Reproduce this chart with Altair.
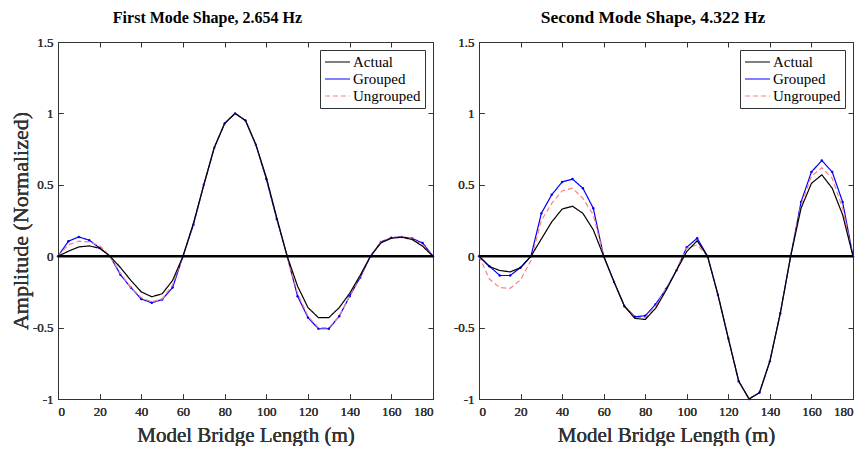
import altair as alt
import pandas as pd

# ---------------- data ----------------
positions = [0, 5, 10, 15, 20, 25, 30, 35, 40, 45, 50, 55, 60, 65, 70, 75, 80, 85, 90,
             95, 100, 105, 110, 115, 120, 125, 130, 135, 140, 145, 150, 155, 160, 165, 170, 175, 180]

series_names = ["Actual", "Grouped", "Ungrouped"]

mode1_actual = [0, 0.035, 0.065, 0.072, 0.056, 0, -0.08, -0.17, -0.25, -0.284, -0.263, -0.17, 0,
                0.23, 0.50, 0.76, 0.93, 1.0, 0.95, 0.78, 0.55, 0.27, 0,
                -0.21, -0.36, -0.43, -0.43, -0.36, -0.26, -0.135, 0,
                0.093, 0.126, 0.133, 0.117, 0.07, 0]
mode1_grouped = [0, 0.105, 0.135, 0.112, 0.058, 0, -0.13, -0.22, -0.30, -0.326, -0.303, -0.22, 0,
                 0.22, 0.50, 0.76, 0.93, 1.0, 0.95, 0.78, 0.54, 0.26, 0,
                 -0.28, -0.43, -0.508, -0.508, -0.42, -0.28, -0.15, 0,
                 0.10, 0.13, 0.135, 0.124, 0.093, 0]
mode1_ungrouped = [0, 0.08, 0.105, 0.10, 0.075, 0, -0.12, -0.22, -0.29, -0.32, -0.30, -0.20, 0,
                   0.23, 0.50, 0.76, 0.93, 1.0, 0.95, 0.78, 0.55, 0.27, 0,
                   -0.26, -0.42, -0.50, -0.50, -0.42, -0.28, -0.14, 0,
                   0.10, 0.13, 0.135, 0.12, 0.08, 0]

mode2_actual = [0, -0.073, -0.10, -0.11, -0.08, 0, 0.12, 0.24, 0.33, 0.35, 0.30, 0.185, 0,
                -0.18, -0.35, -0.435, -0.443, -0.365, -0.24, -0.10, 0.033, 0.108, 0,
                -0.27, -0.576, -0.876, -1.0, -0.955, -0.735, -0.40, 0,
                0.336, 0.51, 0.57, 0.476, 0.29, 0]
mode2_grouped = [0, -0.07, -0.135, -0.135, -0.08, 0, 0.30, 0.43, 0.52, 0.54, 0.476, 0.336, 0,
                 -0.18, -0.35, -0.424, -0.417, -0.337, -0.23, -0.10, 0.063, 0.126, 0,
                 -0.27, -0.576, -0.876, -1.0, -0.955, -0.735, -0.40, 0,
                 0.38, 0.59, 0.67, 0.59, 0.38, 0]
mode2_ungrouped = [0, -0.16, -0.22, -0.225, -0.166, -0.03, 0.25, 0.37, 0.457, 0.476, 0.405, 0.29, 0,
                   -0.18, -0.35, -0.43, -0.43, -0.35, -0.23, -0.10, 0.056, 0.08, 0,
                   -0.27, -0.576, -0.876, -1.0, -0.955, -0.735, -0.40, 0,
                   0.36, 0.56, 0.62, 0.545, 0.336, 0]

x_ticks = [0, 20, 40, 60, 80, 100, 120, 140, 160, 180]
y_ticks = [-1, -0.5, 0, 0.5, 1, 1.5]
zero_x = [0, 180]
zero_y = [0, 0]

titles = ["First Mode Shape, 2.654 Hz", "Second Mode Shape, 4.322 Hz"]
title_dx = [-38, -13]
title_sizes = [16, 17.5]
panel_widths = [375, 374]

FONT = "Liberation Serif"
AX = "#333333"


def long_df(a, g, u):
    rows = []
    for name, vals in zip(series_names, [a, g, u]):
        for x, y in zip(positions, vals):
            rows.append({"x": x, "y": y, "series": name})
    return pd.DataFrame(rows)


def panel(df, title, dx, tsize, width, show_ytitle):
    xs = alt.Scale(domain=[0, 180], nice=False, zero=False)
    ys = alt.Scale(domain=[-1, 1.5], nice=False, zero=False)
    ax_bottom = alt.Axis(orient="bottom", values=x_ticks, offset=-5, tickSize=5, domain=False,
                         grid=False, labelPadding=6, title="Model Bridge Length (m)",
                         titleFontSize=21, titlePadding=6, titleFontWeight="normal",
                         labelFont=FONT, labelFontSize=13, labelColor=AX, tickColor=AX,
                         titleFont=FONT, titleColor=AX)
    ax_left = alt.Axis(orient="left", values=y_ticks, offset=-5, tickSize=5, domain=False,
                       grid=False, labelPadding=5, labelExpr="toString(datum.value)",
                       title="Amplitude (Normalized)" if show_ytitle else None,
                       titleFontSize=22, titlePadding=0, titleFontWeight="normal",
                       labelFont=FONT, labelFontSize=13, labelColor=AX, tickColor=AX,
                       titleFont=FONT, titleColor=AX)
    ax_top = alt.Axis(orient="top", values=x_ticks, offset=-5, tickSize=5, domain=False,
                      grid=False, labels=False, title=None, tickColor=AX)
    ax_right = alt.Axis(orient="right", values=y_ticks, offset=-5, tickSize=5, domain=False,
                        grid=False, labels=False, title=None, tickColor=AX)

    leg = alt.Legend(title=None, orient="top-right", offset=8, padding=4, strokeColor=AX,
                     fillColor="white", symbolType="stroke", symbolSize=625,
                     symbolStrokeWidth=1.2, labelFont=FONT, labelFontSize=15,
                     labelColor="black", rowPadding=1, labelOffset=2, clipHeight=16,
                     cornerRadius=0)
    color = alt.Color("series:N",
                      scale=alt.Scale(domain=series_names, range=["#000000", "#0000ff", "#ff8080"]),
                      legend=leg)
    dash = alt.StrokeDash("series:N",
                          scale=alt.Scale(domain=series_names, range=[[1, 0], [1, 0], [5, 3]]),
                          legend=leg)

    base = alt.Chart(df)
    layers = []
    for name in ["Grouped", "Ungrouped", "Actual"]:
        layers.append(
            base.transform_filter(alt.datum.series == name)
            .mark_line(strokeWidth=1.2)
            .encode(x=alt.X("x:Q", scale=xs, axis=ax_bottom),
                    y=alt.Y("y:Q", scale=ys, axis=ax_left),
                    color=color, strokeDash=dash)
        )
    pts = (base.transform_filter(alt.datum.series == "Grouped")
           .mark_point(filled=True, size=6, color="#0000ff", opacity=1)
           .encode(x=alt.X("x:Q", scale=xs, axis=None), y=alt.Y("y:Q", scale=ys, axis=None)))
    zero = (alt.Chart(pd.DataFrame({"x": zero_x, "y": zero_y}))
            .mark_line(color="black", strokeWidth=2.6)
            .encode(x=alt.X("x:Q", scale=xs, axis=ax_top),
                    y=alt.Y("y:Q", scale=ys, axis=ax_right)))

    ch = alt.layer(layers[0], pts, layers[1], layers[2], zero).resolve_axis(
        x="independent", y="independent")
    return ch.properties(
        width=width, height=357,
        title=alt.Title(title, fontSize=tsize, font=FONT, fontWeight="bold", color="black",
                        anchor="middle", frame="group", offset=10, dx=dx),
    )


left = panel(long_df(mode1_actual, mode1_grouped, mode1_ungrouped),
             titles[0], title_dx[0], title_sizes[0], panel_widths[0], True)
right = panel(long_df(mode2_actual, mode2_grouped, mode2_ungrouped),
              titles[1], title_dx[1], title_sizes[1], panel_widths[1], False)

chart = (alt.hconcat(left, right, spacing=13)
         .resolve_scale(color="independent", strokeDash="independent")
         .properties(padding=0, background="white")
         .configure_view(stroke=AX, strokeWidth=1))

chart.save("out.html", embed_options={"renderer": "svg", "actions": False})
